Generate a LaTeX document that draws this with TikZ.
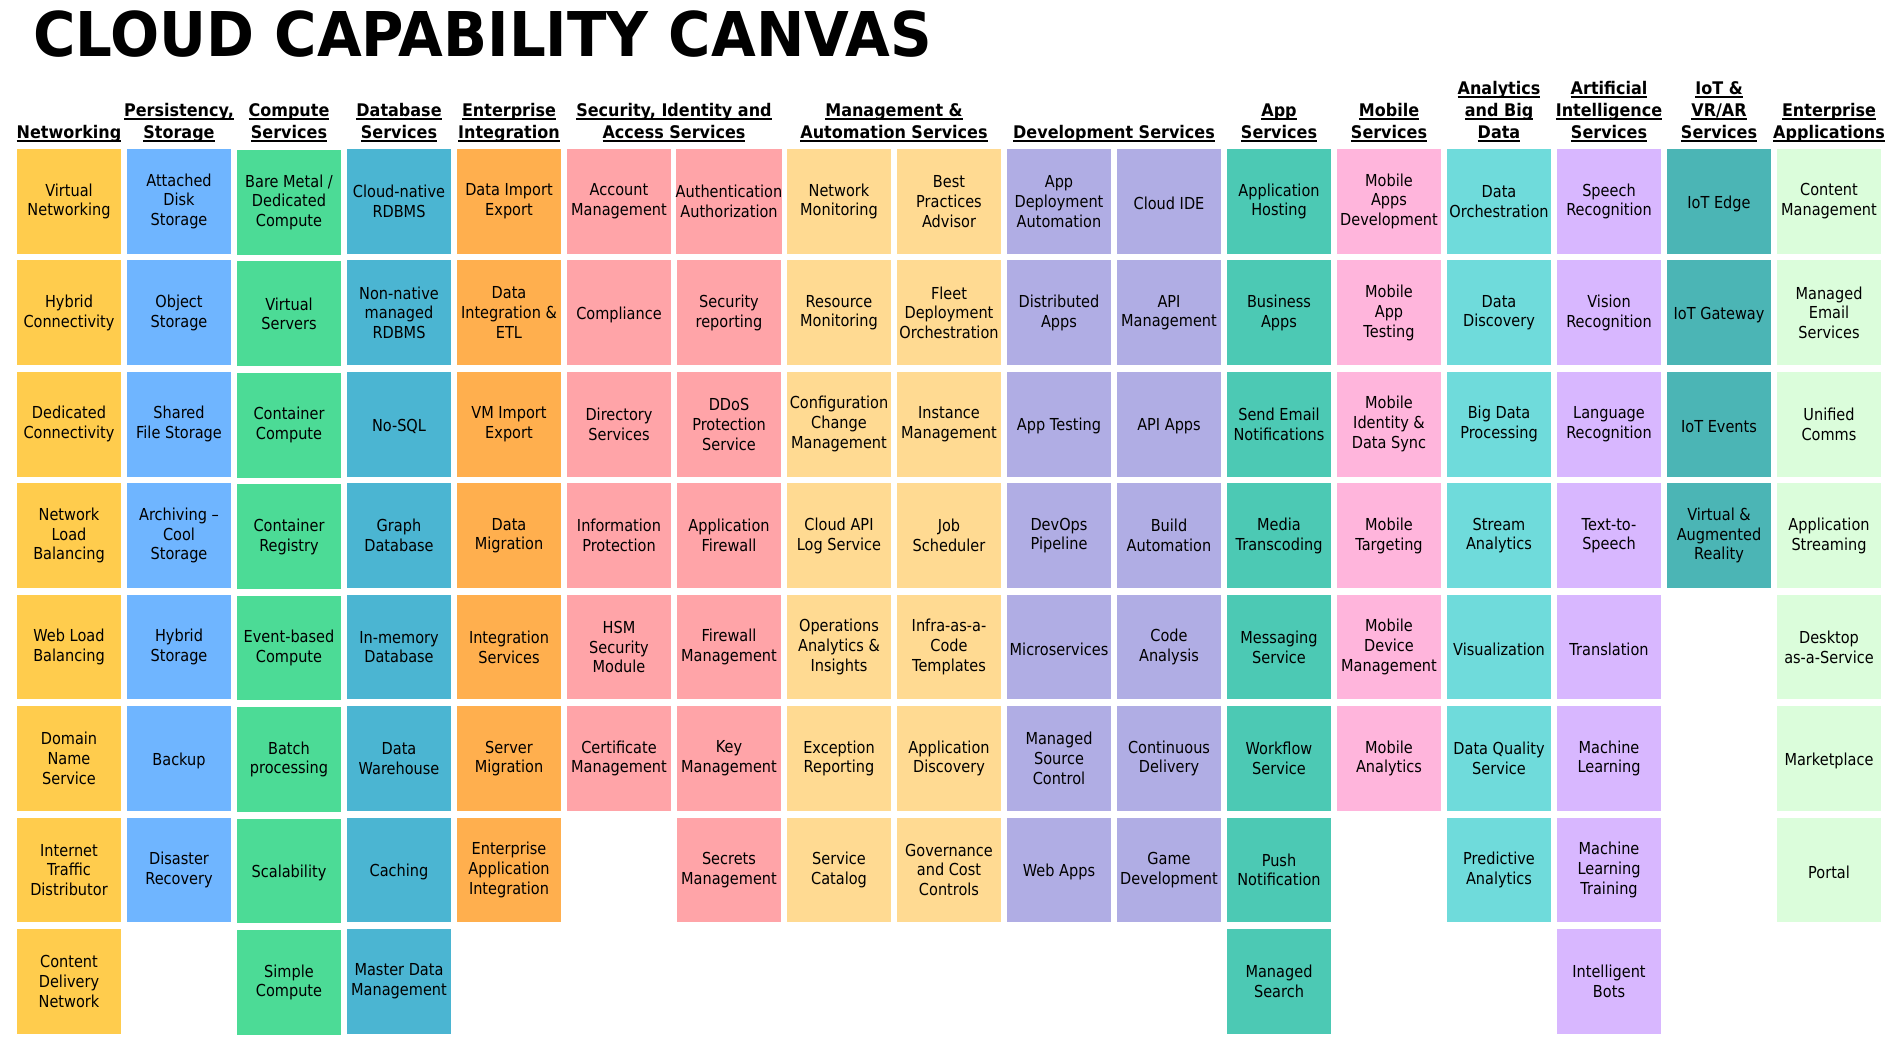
\documentclass[tikz,border=0pt]{standalone}
\usepackage{fontspec}
\usepackage{tikz}
\usetikzlibrary{positioning}
\newfontfamily\capfont[FakeStretch=0.88]{DejaVu Sans}
\newfontfamily\capheadfont[FakeStretch=0.92]{DejaVu Sans}
\newfontfamily\captitlefont[FakeStretch=0.937]{DejaVu Sans}
\definecolor{capnet}{RGB}{255,204,77}
\definecolor{capsto}{RGB}{111,181,255}
\definecolor{capcmp}{RGB}{76,219,150}
\definecolor{capdb}{RGB}{75,181,210}
\definecolor{capint}{RGB}{255,175,78}
\definecolor{capsec}{RGB}{255,164,168}
\definecolor{capmgt}{RGB}{255,218,146}
\definecolor{capdev}{RGB}{176,173,228}
\definecolor{capapp}{RGB}{76,201,180}
\definecolor{capmob}{RGB}{255,181,220}
\definecolor{capana}{RGB}{111,219,219}
\definecolor{capai}{RGB}{216,183,255}
\definecolor{capiot}{RGB}{75,181,181}
\definecolor{capent}{RGB}{219,253,219}
% underlined header line
\newcommand\hdrul[1]{\setbox0=\hbox{#1}\dimen0=\wd0\rlap{\box0}\rule[-3.7pt]{\dimen0}{1.8pt}\rule[-5pt]{0pt}{5pt}}

\begin{document}
\begin{tikzpicture}[
    x=1pt, y=-1pt,
    cell/.style={minimum width=104pt, minimum height=104.7pt, inner sep=0pt, align=center, font=\capfont\fontsize{16.5}{19.8}\selectfont, execute at begin node={\rule{0pt}{17pt}}},
    hdr/.style={anchor=south, inner sep=0pt, align=center, font=\capheadfont\bfseries\fontsize{17.4}{22}\selectfont},
    ttl/.style={anchor=base west, inner sep=0pt, font=\captitlefont\bfseries\fontsize{61.7}{70}\selectfont}
  ]
    \useasboundingbox (0,0) rectangle (1901,1041);
    \node[ttl] (title) at (33,56.7) {CLOUD CAPABILITY CANVAS};

    % headers
    \node[hdr] (hnet) at (69,143.3) {\hdrul{Networking}};
    \node[hdr] (hsto) at (179,143.3) {\hdrul{Persistency,}\\\hdrul{Storage}};
    \node[hdr] (hcmp) at (289,143.3) {\hdrul{Compute}\\\hdrul{Services}};
    \node[hdr] (hdb) at (399,143.3) {\hdrul{Database}\\\hdrul{Services}};
    \node[hdr] (hint) at (509,143.3) {\hdrul{Enterprise}\\\hdrul{Integration}};
    \node[hdr] (hsec) at (674,143.3) {\hdrul{Security, Identity and}\\\hdrul{Access Services}};
    \node[hdr] (hmgt) at (894,143.3) {\hdrul{Management \&}\\\hdrul{Automation Services}};
    \node[hdr] (hdev) at (1114,143.3) {\hdrul{Development Services}};
    \node[hdr] (happ) at (1279,143.3) {\hdrul{App}\\\hdrul{Services}};
    \node[hdr] (hmob) at (1389,143.3) {\hdrul{Mobile}\\\hdrul{Services}};
    \node[hdr] (hana) at (1499,143.3) {\hdrul{Analytics}\\\hdrul{and Big}\\\hdrul{Data}};
    \node[hdr] (hai) at (1609,143.3) {\hdrul{Artificial}\\\hdrul{Intelligence}\\\hdrul{Services}};
    \node[hdr] (hiot) at (1719,143.3) {\hdrul{IoT \&}\\\hdrul{VR/AR}\\\hdrul{Services}};
    \node[hdr] (hent) at (1829,143.3) {\hdrul{Enterprise}\\\hdrul{Applications}};

    % capability cells, one loop per column
    \foreach \t [count=\r from 0] in {Virtual\\Networking, Hybrid\\Connectivity, Dedicated\\Connectivity, Network\\Load\\Balancing, Web Load\\Balancing, Domain\\Name\\Service, Internet\\Traffic\\Distributor, Content\\Delivery\\Network}
      \node[cell, fill=capnet] (net\r) at (69,{201.35+111.43*\r}) {\t};
    \foreach \t [count=\r from 0] in {Attached\\Disk\\Storage, Object\\Storage, Shared\\File Storage, Archiving –\\Cool\\Storage, Hybrid\\Storage, Backup, Disaster\\Recovery}
      \node[cell, fill=capsto] (sto\r) at (179,{201.35+111.43*\r}) {\t};
    \foreach \t [count=\r from 0] in {Bare Metal /\\Dedicated\\Compute, Virtual\\Servers, Container\\Compute, Container\\Registry, Event-based\\Compute, Batch\\processing, Scalability, Simple\\Compute}
      \node[cell, fill=capcmp] (cmp\r) at (289,{202.35+111.43*\r}) {\t};
    \foreach \t [count=\r from 0] in {Cloud-native\\RDBMS, Non-native\\managed\\RDBMS, No-SQL, Graph\\Database, In-memory\\Database, Data\\Warehouse, Caching, Master Data\\Management}
      \node[cell, fill=capdb] (db\r) at (399,{201.35+111.43*\r}) {\t};
    \foreach \t [count=\r from 0] in {Data Import\\Export, Data\\Integration \&\\ETL, VM Import\\Export, Data\\Migration, Integration\\Services, Server\\Migration, Enterprise\\Application\\Integration}
      \node[cell, fill=capint] (int\r) at (509,{201.35+111.43*\r}) {\t};
    \foreach \t [count=\r from 0] in {Account\\Management, Compliance, Directory\\Services, Information\\Protection, HSM\\Security\\Module, Certificate\\Management}
      \node[cell, fill=capsec] (seca\r) at (619,{201.35+111.43*\r}) {\t};
    \foreach \t [count=\r from 0] in {Authentication\\Authorization, Security\\reporting, DDoS\\Protection\\Service, Application\\Firewall, Firewall\\Management, Key\\Management, Secrets\\Management}
      \node[cell, fill=capsec] (secb\r) at (729,{201.35+111.43*\r}) {\t};
    \foreach \t [count=\r from 0] in {Network\\Monitoring, Resource\\Monitoring, Configuration\\Change\\Management, Cloud API\\Log Service, Operations\\Analytics \&\\Insights, Exception\\Reporting, Service\\Catalog}
      \node[cell, fill=capmgt] (mgta\r) at (839,{201.35+111.43*\r}) {\t};
    \foreach \t [count=\r from 0] in {Best\\Practices\\Advisor, Fleet\\Deployment\\Orchestration, Instance\\Management, Job\\Scheduler, Infra-as-a-\\Code\\Templates, Application\\Discovery, Governance\\and Cost\\Controls}
      \node[cell, fill=capmgt] (mgtb\r) at (949,{201.35+111.43*\r}) {\t};
    \foreach \t [count=\r from 0] in {App\\Deployment\\Automation, Distributed\\Apps, App Testing, DevOps\\Pipeline, Microservices, Managed\\Source\\Control, Web Apps}
      \node[cell, fill=capdev] (deva\r) at (1059,{201.35+111.43*\r}) {\t};
    \foreach \t [count=\r from 0] in {Cloud IDE, API\\Management, API Apps, Build\\Automation, Code\\Analysis, Continuous\\Delivery, Game\\Development}
      \node[cell, fill=capdev] (devb\r) at (1169,{201.35+111.43*\r}) {\t};
    \foreach \t [count=\r from 0] in {Application\\Hosting, Business\\Apps, Send Email\\Notifications, Media\\Transcoding, Messaging\\Service, Workflow\\Service, Push\\Notification, Managed\\Search}
      \node[cell, fill=capapp] (app\r) at (1279,{201.35+111.43*\r}) {\t};
    \foreach \t [count=\r from 0] in {Mobile\\Apps\\Development, Mobile\\App\\Testing, Mobile\\Identity \&\\Data Sync, Mobile\\Targeting, Mobile\\Device\\Management, Mobile\\Analytics}
      \node[cell, fill=capmob] (mob\r) at (1389,{201.35+111.43*\r}) {\t};
    \foreach \t [count=\r from 0] in {Data\\Orchestration, Data\\Discovery, Big Data\\Processing, Stream\\Analytics, Visualization, Data Quality\\Service, Predictive\\Analytics}
      \node[cell, fill=capana] (ana\r) at (1499,{201.35+111.43*\r}) {\t};
    \foreach \t [count=\r from 0] in {Speech\\Recognition, Vision\\Recognition, Language\\Recognition, Text-to-\\Speech, Translation, Machine\\Learning, Machine\\Learning\\Training, Intelligent\\Bots}
      \node[cell, fill=capai] (ai\r) at (1609,{201.35+111.43*\r}) {\t};
    \foreach \t [count=\r from 0] in {IoT Edge, IoT Gateway, IoT Events, Virtual \&\\Augmented\\Reality}
      \node[cell, fill=capiot] (iot\r) at (1719,{201.35+111.43*\r}) {\t};
    \foreach \t [count=\r from 0] in {Content\\Management, Managed\\Email\\Services, Unified\\Comms, Application\\Streaming, Desktop\\as-a-Service, Marketplace, Portal}
      \node[cell, fill=capent] (ent\r) at (1829,{201.35+111.43*\r}) {\t};
  \end{tikzpicture}
\end{document}
